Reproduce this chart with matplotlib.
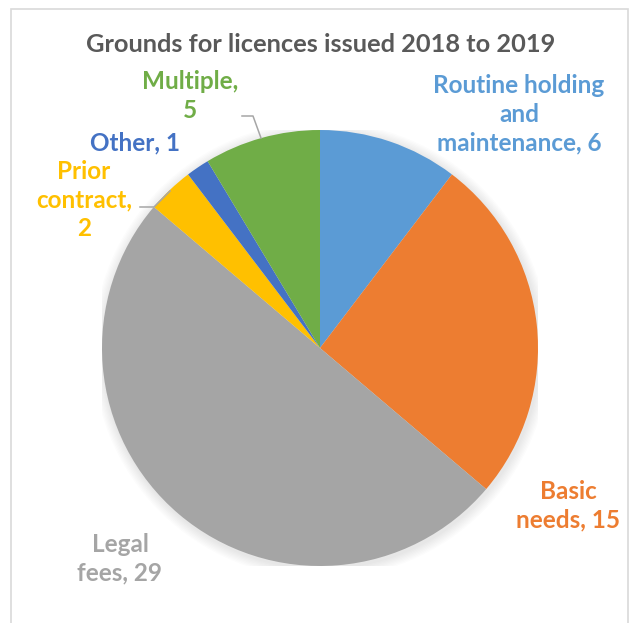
import matplotlib.pyplot as plt
from matplotlib.patches import Rectangle, Circle
from matplotlib.lines import Line2D

W, H = 633, 623

labels = ["Routine holding\nand\nmaintenance", "Basic\nneeds", "Legal\nfees",
          "Prior\ncontract,", "Other", "Multiple,"]
values = [6, 15, 29, 2, 1, 5]
colors = ["#5B9BD5", "#ED7D31", "#A5A5A5", "#FFC000", "#4472C4", "#70AD47"]

plt.rcParams['font.family'] = ['Lato', 'DejaVu Sans']

fig = plt.figure(figsize=(W / 100, H / 100), dpi=100)

# chart frame
fig.patches.append(Rectangle((11 / W, -0.05), 617 / W, 1.05 - 9 / H,
                             transform=fig.transFigure, fill=False,
                             edgecolor="#D9D9D9", linewidth=1.2))

cx, cy, r = 320, 348, 218
ax = fig.add_axes([(cx - r) / W, (H - cy - r) / H, 2 * r / W, 2 * r / H])
ax.axis("off")

# soft shadow
for i in range(8):
    ax.add_patch(Circle((0.006, -0.01), 1.0 + 0.006 * (8 - i), color="k",
                        alpha=0.012, lw=0, zorder=0))

ax.pie(values, colors=colors, startangle=90, counterclock=False, radius=1,
       wedgeprops=dict(linewidth=0), frame=False)
ax.set_xlim(-1, 1)
ax.set_ylim(-1, 1)


def px(x, y):
    return x / W, 1 - y / H


fig.text(*px(321, 44), "Grounds for licences issued 2018 to 2019", ha="center",
         va="center", fontsize=18.3, fontweight="bold", color="#595959")

lab_text = [
    ("Routine holding\nand\nmaintenance, %d" % values[0], 519, 114, colors[0]),
    ("Basic\nneeds, %d" % values[1], 568, 506, colors[1]),
    ("Legal\nfees, %d" % values[2], 120, 559, colors[2]),
    ("Prior\ncontract,\n%d" % values[3], 84, 200, colors[3]),
    ("Other, %d" % values[4], 135, 143, colors[4]),
    ("Multiple,\n%d" % values[5], 190, 96, colors[5]),
]
for txt, x, y, c in lab_text:
    fig.text(*px(x, y), txt, ha="center", va="center", fontsize=17.5,
             fontweight="bold", color=c, linespacing=1.3)

# leader lines
for pts in ([(242, 116), (253, 116), (261, 138)],
            [(140, 207), (154, 207), (170, 191)]):
    xs = [p[0] / W for p in pts]
    ys = [1 - p[1] / H for p in pts]
    fig.lines.append(Line2D(xs, ys, transform=fig.transFigure,
                            color="#A6A6A6", linewidth=1.1))

fig.savefig("out.png", dpi=100)
